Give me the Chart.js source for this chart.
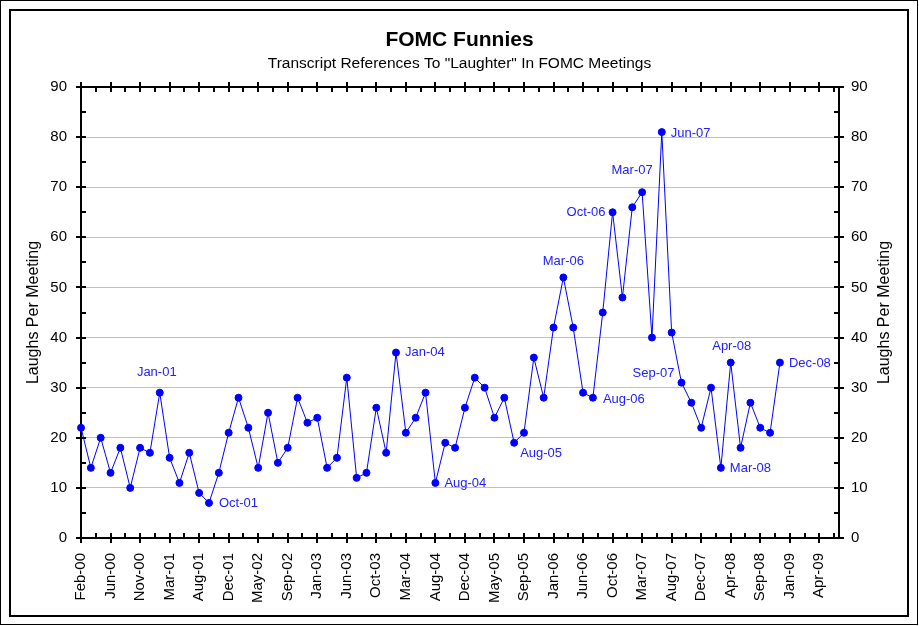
<!DOCTYPE html>
<html>
<head>
<meta charset="utf-8">
<title>FOMC Funnies</title>
<script src="https://cdn.jsdelivr.net/npm/chart.js@4.4.0/dist/chart.umd.min.js"></script>
<style>
  body { margin: 0; background: #fff; }
  canvas { display: block; }
</style>
</head>
<body>
<canvas id="fomcChart" width="919" height="626"></canvas>
<script>
// one entry per FOMC meeting, Feb-00 .. Dec-08
const meetings = [
  'Feb-00', 'Mar-00', 'May-00', 'Jun-00', 'Aug-00', 'Oct-00', 'Nov-00', 'Dec-00',
  'Jan-01', 'Mar-01', 'May-01', 'Jun-01', 'Aug-01', 'Oct-01', 'Nov-01', 'Dec-01',
  'Jan-02', 'Mar-02', 'May-02', 'Jun-02', 'Aug-02', 'Sep-02', 'Nov-02', 'Dec-02',
  'Jan-03', 'Mar-03', 'May-03', 'Jun-03', 'Aug-03', 'Sep-03', 'Oct-03', 'Dec-03',
  'Jan-04', 'Mar-04', 'May-04', 'Jun-04', 'Aug-04', 'Sep-04', 'Nov-04', 'Dec-04',
  'Feb-05', 'Mar-05', 'May-05', 'Jun-05', 'Aug-05', 'Sep-05', 'Nov-05', 'Dec-05',
  'Jan-06', 'Mar-06', 'May-06', 'Jun-06', 'Aug-06', 'Sep-06', 'Oct-06', 'Dec-06',
  'Jan-07', 'Mar-07', 'May-07', 'Jun-07', 'Aug-07', 'Sep-07', 'Oct-07', 'Dec-07',
  'Jan-08', 'Mar-08', 'Apr-08', 'Jun-08', 'Aug-08', 'Sep-08', 'Oct-08', 'Dec-08'
];
// empty categories after the last meeting (axis runs on into 2009)
const emptySlots = ['Jan-09', 'Feb-09', 'Mar-09', 'Apr-09', 'May-09', 'Jun-09'];

// references to "laughter" per meeting
const laughs = [
  22, 14, 20, 13, 18, 10, 18, 17,
  29, 16, 11, 17, 9, 7, 13, 21,
  28, 22, 14, 25, 15, 18, 28, 23,
  24, 14, 16, 32, 12, 13, 26, 17,
  37, 21, 24, 29, 11, 19, 18, 26,
  32, 30, 24, 28, 19, 21, 36, 28,
  42, 52, 42, 29, 28, 45, 65, 48,
  66, 69, 40, 81, 41, 31, 27, 22,
  30, 14, 35, 18, 27, 22, 21, 35
];

// points that carry a label: [textAlign, dx, dy] from the marker
const labelPlacement = {
  'Jan-01': ['center', -3, -20],
  'Oct-01': ['left', 10, 0],
  'Jan-04': ['left', 9, 0],
  'Aug-04': ['left', 9, 1],
  'Aug-05': ['left', 6, 11],
  'Mar-06': ['center', 0, -16],
  'Aug-06': ['left', 10, 2],
  'Oct-06': ['right', -7, 0],
  'Mar-07': ['center', -10, -22],
  'Jun-07': ['left', 9, 1],
  'Sep-07': ['right', -7, -9],
  'Mar-08': ['left', 9, 1],
  'Apr-08': ['center', 1, -16],
  'Dec-08': ['left', 9, 1]
};

const FONT = '"Liberation Sans", Arial, sans-serif';

// white page, double border, black axis box with ticks
const frame = {
  id: 'frame',
  beforeDraw(chart) {
    const c = chart.ctx;
    c.save();
    c.fillStyle = '#fff';
    c.fillRect(0, 0, chart.width, chart.height);
    c.strokeStyle = '#000';
    c.lineWidth = 1;
    c.strokeRect(0.5, 0.5, 917, 624);
    c.lineWidth = 2;
    c.strokeRect(10, 10, 898, 606);
    c.restore();
  },
  beforeDatasetsDraw(chart) {
    const { ctx: c, chartArea: a, scales: { x, y } } = chart;
    c.save();
    c.strokeStyle = '#000';
    c.lineWidth = 2;
    c.strokeRect(a.left, a.top, a.right - a.left, a.bottom - a.top);
    c.beginPath();
    for (let v = 0; v <= 90; v += 5) {
      const py = Math.round(y.getPixelForValue(v));
      if (v % 10 === 0) {
        c.moveTo(a.left - 5, py); c.lineTo(a.left + 5, py);
        c.moveTo(a.right - 5, py); c.lineTo(a.right + 5, py);
      } else {
        c.moveTo(a.left, py); c.lineTo(a.left + 5, py);
        c.moveTo(a.right - 5, py); c.lineTo(a.right, py);
      }
    }
    const last = meetings.length + emptySlots.length - 1;
    for (let i = 0; i <= last; i += 1.5) {
      const px = Math.round(x.getPixelForValue(i));
      if (i % 3 === 0) {
        c.moveTo(px, a.bottom - 5); c.lineTo(px, a.bottom + 5);
        c.moveTo(px, a.top - 5); c.lineTo(px, a.top + 5);
      } else {
        c.moveTo(px, a.bottom - 5); c.lineTo(px, a.bottom);
        c.moveTo(px, a.top); c.lineTo(px, a.top + 5);
      }
    }
    c.stroke();
    c.restore();
  },
  afterDraw(chart) {
    // right axis title reads bottom-to-top like the left one
    const { ctx: c, chartArea: a } = chart;
    c.save();
    c.font = '16px ' + FONT;
    c.fillStyle = '#000';
    c.textAlign = 'center';
    c.textBaseline = 'middle';
    c.translate(885, (a.top + a.bottom) / 2);
    c.rotate(-Math.PI / 2);
    c.fillText('Laughs Per Meeting', 0, 0);
    c.restore();
  }
};

const pointLabels = {
  id: 'pointLabels',
  afterDatasetsDraw(chart) {
    const meta = chart.getDatasetMeta(0);
    const c = chart.ctx;
    c.save();
    c.font = '13px ' + FONT;
    c.fillStyle = '#2020ff';
    c.textBaseline = 'middle';
    for (const name in labelPlacement) {
      const pt = meta.data[meetings.indexOf(name)];
      const [align, dx, dy] = labelPlacement[name];
      c.textAlign = align;
      c.fillText(name, pt.x + dx, pt.y + dy);
    }
    c.restore();
  }
};

const yTicks = {
  min: 0,
  max: 90,
  ticks: { stepSize: 10, color: '#000', font: { family: FONT, size: 15 } },
  border: { display: false }
};

new Chart(document.getElementById('fomcChart'), {
  type: 'line',
  data: {
    labels: meetings.concat(emptySlots),
    datasets: [{
      data: laughs,
      borderColor: '#0000ff',
      borderWidth: 1,
      pointRadius: 3.5,
      pointBorderWidth: 1,
      pointBackgroundColor: '#0000ff',
      pointBorderColor: '#0000ff',
      tension: 0,
      clip: false
    }]
  },
  options: {
    responsive: false,
    animation: false,
    devicePixelRatio: 1,
    layout: { padding: 0 },
    plugins: {
      legend: { display: false },
      tooltip: { enabled: false },
      title: {
        display: true,
        text: 'FOMC Funnies',
        color: '#000',
        font: { family: FONT, size: 21, weight: 'bold' },
        padding: { top: 28, bottom: 0 }
      },
      subtitle: {
        display: true,
        text: 'Transcript References To "Laughter" In FOMC Meetings',
        color: '#000',
        font: { family: FONT, size: 15.5 },
        padding: { top: 1, bottom: 14.2 }
      }
    },
    scales: {
      x: {
        type: 'category',
        offset: false,
        grid: { display: false, drawTicks: false },
        border: { display: false },
        ticks: {
          autoSkip: false,
          minRotation: 90,
          maxRotation: 90,
          padding: 15,
          color: '#000',
          font: { family: FONT, size: 15 },
          callback: function (val, i) {
            return i % 3 === 0 ? this.getLabelForValue(val) : '';
          }
        },
        afterFit: (scale) => { scale.height = 88; }
      },
      y: {
        ...yTicks,
        position: 'left',
        ticks: { ...yTicks.ticks, padding: 14 },
        grid: {
          drawTicks: false,
          color: (ctx) => (ctx.tick.value === 0 || ctx.tick.value === 90) ? 'rgba(0,0,0,0)' : '#c0c0c0'
        },
        title: {
          display: true,
          text: 'Laughs Per Meeting',
          color: '#000',
          font: { family: FONT, size: 16 },
          padding: { top: 24, bottom: 0 }
        },
        afterFit: (scale) => { scale.width = 81; }
      },
      y2: {
        ...yTicks,
        position: 'right',
        ticks: { ...yTicks.ticks, padding: 12 },
        grid: { display: false, drawTicks: false },
        afterFit: (scale) => { scale.width = 80; }
      }
    }
  },
  plugins: [frame, pointLabels]
});
</script>
</body>
</html>
